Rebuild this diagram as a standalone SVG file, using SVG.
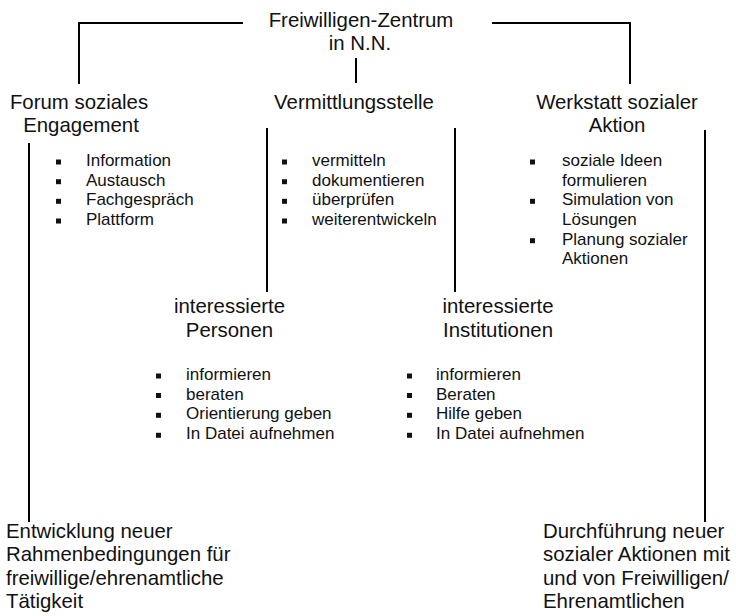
<svg xmlns="http://www.w3.org/2000/svg" width="736" height="616" viewBox="0 0 736 616">
<style>
  .h{font-family:"Liberation Sans",Arial,sans-serif;font-size:20.4px;fill:#111}
  .m{text-anchor:middle}
  .b{font-family:"Liberation Sans",Arial,sans-serif;font-size:17px;fill:#111}
  .c{fill:none;stroke:#000;stroke-width:2}
  .sq{fill:#111}
</style>
<defs>
  <rect id="bul" width="5" height="5" class="sq"/>
</defs>
<rect width="736" height="616" fill="#fff"/>
<g id="connectors">
  <path class="c" d="M243,23 H79 V84"/>
  <path class="c" d="M492,23 H630 V84"/>
  <path class="c" d="M356,58 V83"/>
  <path class="c" d="M29,143 V522"/>
  <path class="c" d="M267,128 V292"/>
  <path class="c" d="M455,128 V292"/>
  <path class="c" d="M705,130 V522"/>
</g>
<g id="zentrum">
  <text class="h m" x="361" y="27">Freiwilligen-Zentrum</text>
  <text class="h m" x="360" y="50">in N.N.</text>
</g>
<g id="forum">
  <text class="h m" x="79" y="109">Forum soziales</text>
  <text class="h m" x="81" y="132">Engagement</text>
  <use href="#bul" x="56" y="159.5"/><text class="b" x="86" y="166">Information</text>
  <use href="#bul" x="56" y="179.2"/><text class="b" x="86" y="185.7">Austausch</text>
  <use href="#bul" x="56" y="198.8"/><text class="b" x="86" y="205.3">Fachgespräch</text>
  <use href="#bul" x="56" y="218.5"/><text class="b" x="86" y="225">Plattform</text>
</g>
<g id="vermittlung">
  <text class="h m" x="354" y="109">Vermittlungsstelle</text>
  <use href="#bul" x="282" y="159.5"/><text class="b" x="312" y="166">vermitteln</text>
  <use href="#bul" x="282" y="179.2"/><text class="b" x="312" y="185.7">dokumentieren</text>
  <use href="#bul" x="282" y="198.8"/><text class="b" x="312" y="205.3">überprüfen</text>
  <use href="#bul" x="282" y="218.5"/><text class="b" x="312" y="225">weiterentwickeln</text>
</g>
<g id="werkstatt">
  <text class="h m" x="617" y="109">Werkstatt sozialer</text>
  <text class="h m" x="617" y="132">Aktion</text>
  <use href="#bul" x="530" y="159.5"/><text class="b" x="562" y="166">soziale Ideen</text>
  <text class="b" x="562" y="185.7">formulieren</text>
  <use href="#bul" x="530" y="198.8"/><text class="b" x="562" y="205.3">Simulation von</text>
  <text class="b" x="562" y="225">Lösungen</text>
  <use href="#bul" x="530" y="238.2"/><text class="b" x="562" y="244.7">Planung sozialer</text>
  <text class="b" x="562" y="264.3">Aktionen</text>
</g>
<g id="personen">
  <text class="h m" x="229.5" y="313">interessierte</text>
  <text class="h m" x="229.5" y="337">Personen</text>
  <use href="#bul" x="156" y="373.5"/><text class="b" x="186" y="380">informieren</text>
  <use href="#bul" x="156" y="393"/><text class="b" x="186" y="399.5">beraten</text>
  <use href="#bul" x="156" y="412.8"/><text class="b" x="186" y="419.3">Orientierung geben</text>
  <use href="#bul" x="156" y="432.8"/><text class="b" x="186" y="439.3">In Datei aufnehmen</text>
</g>
<g id="institutionen">
  <text class="h m" x="498" y="313">interessierte</text>
  <text class="h m" x="498" y="337">Institutionen</text>
  <use href="#bul" x="407" y="373.5"/><text class="b" x="436" y="380">informieren</text>
  <use href="#bul" x="407" y="393"/><text class="b" x="436" y="399.5">Beraten</text>
  <use href="#bul" x="407" y="412.8"/><text class="b" x="436" y="419.3">Hilfe geben</text>
  <use href="#bul" x="407" y="432.8"/><text class="b" x="436" y="439.3">In Datei aufnehmen</text>
</g>
<g id="entwicklung">
  <text class="h" x="6" y="538">Entwicklung neuer</text>
  <text class="h" x="6" y="561.3">Rahmenbedingungen für</text>
  <text class="h" x="6" y="584.6">freiwillige/ehrenamtliche</text>
  <text class="h" x="6" y="608">Tätigkeit</text>
</g>
<g id="durchfuehrung">
  <text class="h" x="543" y="538">Durchführung neuer</text>
  <text class="h" x="543" y="561.3">sozialer Aktionen mit</text>
  <text class="h" x="543" y="584.6">und von Freiwilligen/</text>
  <text class="h" x="543" y="608">Ehrenamtlichen</text>
</g>
</svg>
